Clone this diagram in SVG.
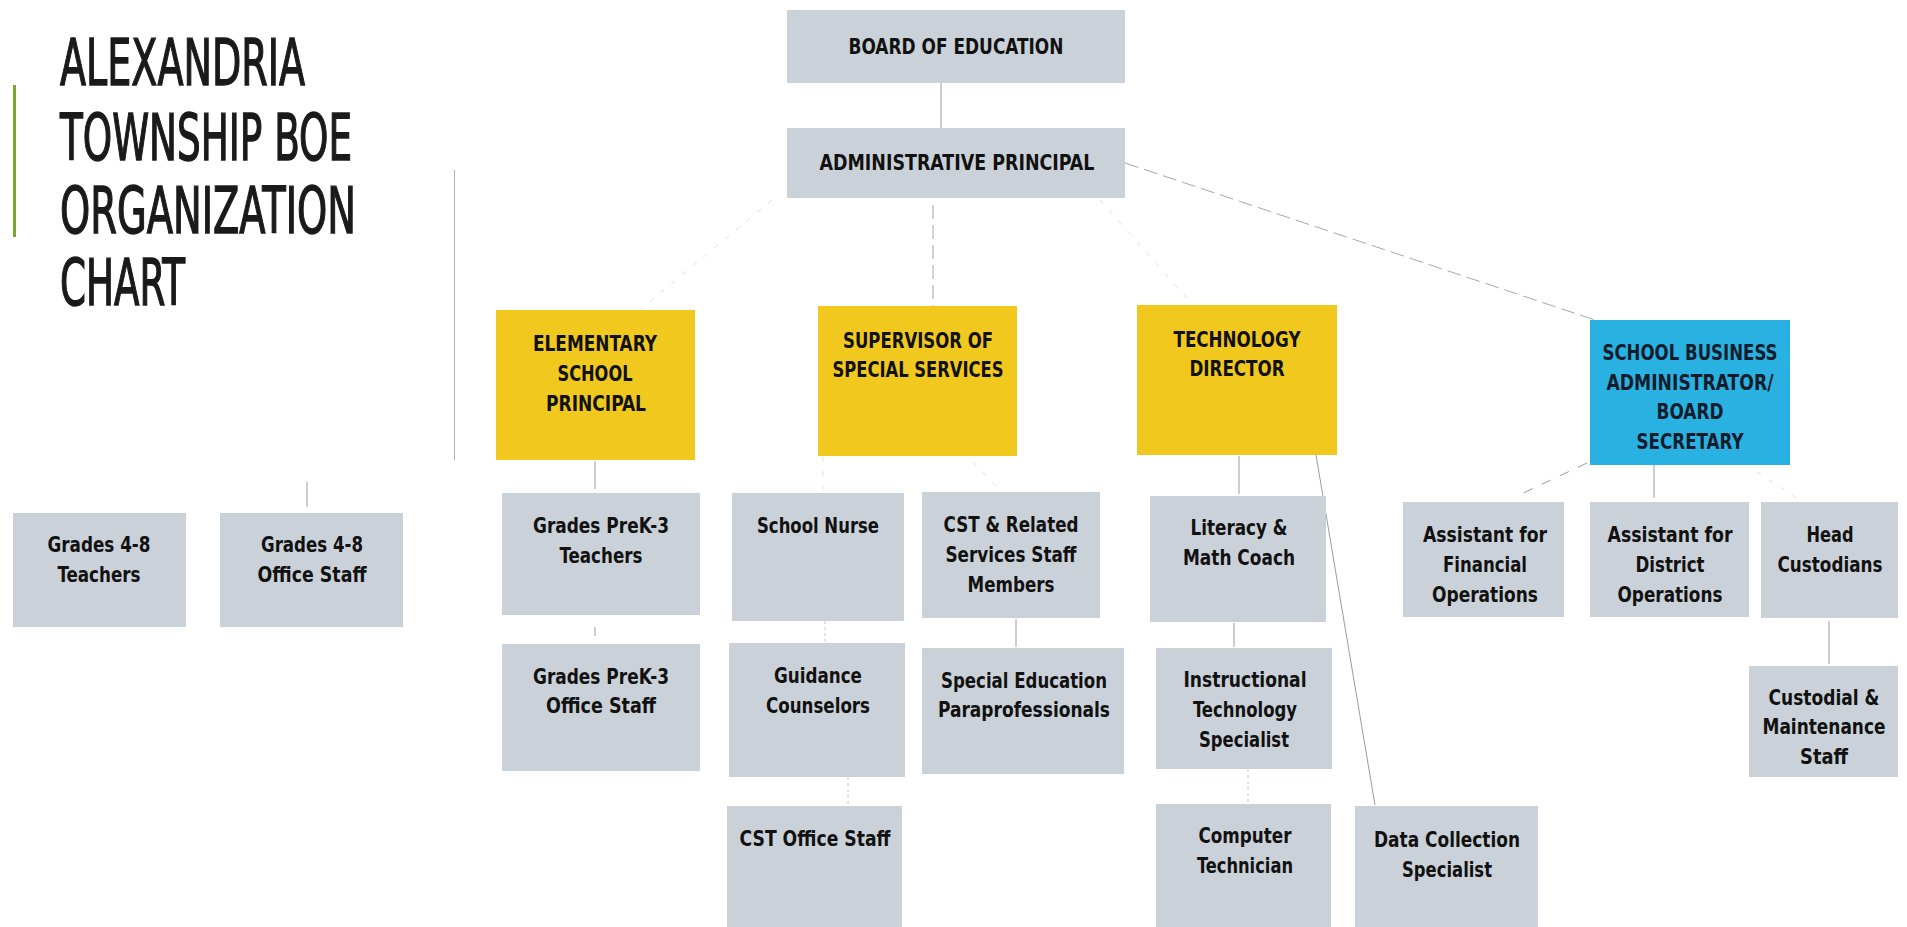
<svg xmlns="http://www.w3.org/2000/svg" width="1907" height="927" viewBox="0 0 1907 927">
  <style>
    .box { fill: #cbd1d8; }
    .yel { fill: #f0c81e; }
    .blue { fill: #29b1e1; }
    .lbl { font-family: "Liberation Sans Narrow", "DejaVu Sans Condensed", "Liberation Sans", sans-serif; font-stretch: condensed; font-weight: bold; font-size: 22px; fill: #111111; text-anchor: middle; }
    .cap { font-size: 21px; }
    .navy { fill: #141c2c; }
    .title { font-family: "Liberation Sans Narrow", "DejaVu Sans Condensed", "Liberation Sans", sans-serif; font-stretch: condensed; font-weight: normal; font-size: 64px; fill: #1a1a1a; stroke: #1a1a1a; stroke-width: 1.4; }
    .ln { stroke: #9c9c9c; stroke-width: 1; fill: none; }
    .faint { stroke: #e0e0e0; stroke-width: 1; fill: none; stroke-dasharray: 5 9; }
    .dot { stroke: #c8c8c8; stroke-width: 1; fill: none; stroke-dasharray: 3 3; }
    .dash { stroke: #a8a8a8; stroke-width: 1; fill: none; stroke-dasharray: 14 6; }
  </style>

  <!-- heading -->
  <g id="title">
    <rect x="13" y="85" width="3" height="152" fill="#7aa72a"/>
    <text class="title" x="60" y="85" textLength="245" lengthAdjust="spacingAndGlyphs">ALEXANDRIA</text>
    <text class="title" x="60" y="160" textLength="292" lengthAdjust="spacingAndGlyphs">TOWNSHIP BOE</text>
    <text class="title" x="60" y="233" textLength="296" lengthAdjust="spacingAndGlyphs">ORGANIZATION</text>
    <text class="title" x="60" y="305" textLength="125" lengthAdjust="spacingAndGlyphs">CHART</text>
    <line x1="454.5" y1="170" x2="454.5" y2="460" stroke="#b0b0b0" stroke-width="1"/>
  </g>

  <!-- connectors -->
  <g id="connectors">
    <path class="ln" d="M941 83 V128"/>
    <path class="dash" d="M933 205 V306"/>
    <rect x="926" y="306" width="10" height="6" fill="#b89f2a"/>
    <path class="faint" d="M772 200 L641 309" stroke="#ebebeb"/>
    <path class="faint" d="M1100 200 L1192 304" stroke-dasharray="2 16"/>
    <path class="dash" d="M1125 163 L1595 320" stroke="#bcbcbc"/>
    <path class="ln" d="M595 461 V489"/>
    <path class="ln" d="M595 627 V636"/>
    <path class="faint" d="M823 457 V492" stroke-dasharray="none" stroke="#e8e0d2"/>
    <path class="faint" d="M973 462 L997 487" stroke-dasharray="none"/>
    <path class="dot" d="M825 621 V650" stroke="#d8d8d8"/>
    <path class="dot" d="M848 777 V806" stroke="#d8d8d8"/>
    <path class="ln" d="M1016 619 V647"/>
    <path class="ln" d="M1239 456 V494"/>
    <path class="ln" d="M1316 455 L1375 805"/>
    <path class="ln" d="M1234 623 V647"/>
    <path class="dot" d="M1248 769 V804"/>
    <path class="ln" d="M1587 463 L1517 496" stroke-dasharray="10 10"/>
    <path class="ln" d="M1654 465 V498"/>
    <path class="faint" d="M1757 472 L1800 500" stroke-dasharray="none"/>
    <path class="ln" d="M1829 621 V664"/>
    <path class="ln" d="M307 482 V507" stroke="#888"/>
  </g>

  <!-- top level -->
  <g id="board">
    <rect class="box" x="787" y="10" width="338" height="73"/>
    <text class="lbl cap" x="956" y="54" textLength="215" lengthAdjust="spacingAndGlyphs">BOARD OF EDUCATION</text>
  </g>
  <g id="admin-principal">
    <rect class="box" x="787" y="128" width="338" height="70"/>
    <text class="lbl cap" x="957" y="170" textLength="275" lengthAdjust="spacingAndGlyphs">ADMINISTRATIVE PRINCIPAL</text>
  </g>

  <!-- directors -->
  <g id="elementary-principal">
    <rect class="yel" x="496" y="310" width="199" height="150"/>
    <text class="lbl" x="595" y="351" textLength="124" lengthAdjust="spacingAndGlyphs">ELEMENTARY</text>
    <text class="lbl" x="595" y="381" textLength="75" lengthAdjust="spacingAndGlyphs">SCHOOL</text>
    <text class="lbl" x="596" y="411" textLength="100" lengthAdjust="spacingAndGlyphs">PRINCIPAL</text>
  </g>
  <g id="special-services">
    <rect class="yel" x="818" y="306" width="199" height="150"/>
    <text class="lbl" x="918" y="348" textLength="150" lengthAdjust="spacingAndGlyphs">SUPERVISOR OF</text>
    <text class="lbl" x="918" y="377" textLength="171" lengthAdjust="spacingAndGlyphs">SPECIAL SERVICES</text>
  </g>
  <g id="technology-director">
    <rect class="yel" x="1137" y="305" width="200" height="150"/>
    <text class="lbl" x="1237" y="347" textLength="127" lengthAdjust="spacingAndGlyphs">TECHNOLOGY</text>
    <text class="lbl" x="1237" y="376" textLength="95" lengthAdjust="spacingAndGlyphs">DIRECTOR</text>
  </g>
  <g id="business-administrator">
    <rect class="blue" x="1590" y="320" width="200" height="145"/>
    <text class="lbl navy" x="1690" y="360" textLength="175" lengthAdjust="spacingAndGlyphs">SCHOOL BUSINESS</text>
    <text class="lbl navy" x="1690" y="390" textLength="167" lengthAdjust="spacingAndGlyphs">ADMINISTRATOR/</text>
    <text class="lbl navy" x="1690" y="419" textLength="67" lengthAdjust="spacingAndGlyphs">BOARD</text>
    <text class="lbl navy" x="1690" y="449" textLength="107" lengthAdjust="spacingAndGlyphs">SECRETARY</text>
  </g>

  <!-- staff -->
  <g id="grades48-teachers">
    <rect class="box" x="13" y="513" width="173" height="114"/>
    <text class="lbl" x="99" y="552" textLength="103" lengthAdjust="spacingAndGlyphs">Grades 4-8</text>
    <text class="lbl" x="99" y="582" textLength="83" lengthAdjust="spacingAndGlyphs">Teachers</text>
  </g>
  <g id="grades48-office">
    <rect class="box" x="220" y="513" width="183" height="114"/>
    <text class="lbl" x="312" y="552" textLength="102" lengthAdjust="spacingAndGlyphs">Grades 4-8</text>
    <text class="lbl" x="312" y="582" textLength="109" lengthAdjust="spacingAndGlyphs">Office Staff</text>
  </g>
  <g id="prek3-teachers">
    <rect class="box" x="502" y="493" width="198" height="122"/>
    <text class="lbl" x="601" y="533" textLength="136" lengthAdjust="spacingAndGlyphs">Grades PreK-3</text>
    <text class="lbl" x="601" y="563" textLength="83" lengthAdjust="spacingAndGlyphs">Teachers</text>
  </g>
  <g id="prek3-office">
    <rect class="box" x="502" y="644" width="198" height="127"/>
    <text class="lbl" x="601" y="684" textLength="136" lengthAdjust="spacingAndGlyphs">Grades PreK-3</text>
    <text class="lbl" x="601" y="713" textLength="110" lengthAdjust="spacingAndGlyphs">Office Staff</text>
  </g>
  <g id="school-nurse">
    <rect class="box" x="732" y="493" width="172" height="128"/>
    <text class="lbl" x="818" y="533" textLength="122" lengthAdjust="spacingAndGlyphs">School Nurse</text>
  </g>
  <g id="cst-related">
    <rect class="box" x="922" y="492" width="178" height="126"/>
    <text class="lbl" x="1011" y="532" textLength="135" lengthAdjust="spacingAndGlyphs">CST &amp; Related</text>
    <text class="lbl" x="1011" y="562" textLength="131" lengthAdjust="spacingAndGlyphs">Services Staff</text>
    <text class="lbl" x="1011" y="592" textLength="87" lengthAdjust="spacingAndGlyphs">Members</text>
  </g>
  <g id="guidance">
    <rect class="box" x="729" y="643" width="176" height="134"/>
    <text class="lbl" x="818" y="683" textLength="88" lengthAdjust="spacingAndGlyphs">Guidance</text>
    <text class="lbl" x="818" y="713" textLength="104" lengthAdjust="spacingAndGlyphs">Counselors</text>
  </g>
  <g id="special-ed-para">
    <rect class="box" x="922" y="648" width="202" height="126"/>
    <text class="lbl" x="1024" y="688" textLength="166" lengthAdjust="spacingAndGlyphs">Special Education</text>
    <text class="lbl" x="1024" y="717" textLength="172" lengthAdjust="spacingAndGlyphs">Paraprofessionals</text>
  </g>
  <g id="cst-office">
    <rect class="box" x="727" y="806" width="175" height="121"/>
    <text class="lbl" x="815" y="846" textLength="151" lengthAdjust="spacingAndGlyphs">CST Office Staff</text>
  </g>
  <g id="literacy-math">
    <rect class="box" x="1150" y="496" width="176" height="126"/>
    <text class="lbl" x="1239" y="535" textLength="97" lengthAdjust="spacingAndGlyphs">Literacy &amp;</text>
    <text class="lbl" x="1239" y="565" textLength="112" lengthAdjust="spacingAndGlyphs">Math Coach</text>
  </g>
  <g id="instructional-tech">
    <rect class="box" x="1156" y="648" width="176" height="121"/>
    <text class="lbl" x="1245" y="687" textLength="123" lengthAdjust="spacingAndGlyphs">Instructional</text>
    <text class="lbl" x="1245" y="717" textLength="104" lengthAdjust="spacingAndGlyphs">Technology</text>
    <text class="lbl" x="1244" y="747" textLength="90" lengthAdjust="spacingAndGlyphs">Specialist</text>
  </g>
  <g id="computer-tech">
    <rect class="box" x="1156" y="804" width="175" height="123"/>
    <text class="lbl" x="1245" y="843" textLength="93" lengthAdjust="spacingAndGlyphs">Computer</text>
    <text class="lbl" x="1245" y="873" textLength="96" lengthAdjust="spacingAndGlyphs">Technician</text>
  </g>
  <g id="data-collection">
    <rect class="box" x="1355" y="806" width="183" height="121"/>
    <text class="lbl" x="1447" y="847" textLength="146" lengthAdjust="spacingAndGlyphs">Data Collection</text>
    <text class="lbl" x="1447" y="877" textLength="90" lengthAdjust="spacingAndGlyphs">Specialist</text>
  </g>
  <g id="asst-financial">
    <rect class="box" x="1403" y="502" width="161" height="115"/>
    <text class="lbl" x="1485" y="542" textLength="124" lengthAdjust="spacingAndGlyphs">Assistant for</text>
    <text class="lbl" x="1485" y="572" textLength="84" lengthAdjust="spacingAndGlyphs">Financial</text>
    <text class="lbl" x="1485" y="602" textLength="106" lengthAdjust="spacingAndGlyphs">Operations</text>
  </g>
  <g id="asst-district">
    <rect class="box" x="1590" y="502" width="159" height="115"/>
    <text class="lbl" x="1670" y="542" textLength="125" lengthAdjust="spacingAndGlyphs">Assistant for</text>
    <text class="lbl" x="1670" y="572" textLength="69" lengthAdjust="spacingAndGlyphs">District</text>
    <text class="lbl" x="1670" y="602" textLength="105" lengthAdjust="spacingAndGlyphs">Operations</text>
  </g>
  <g id="head-custodians">
    <rect class="box" x="1761" y="502" width="137" height="116"/>
    <text class="lbl" x="1830" y="542" textLength="47" lengthAdjust="spacingAndGlyphs">Head</text>
    <text class="lbl" x="1830" y="572" textLength="105" lengthAdjust="spacingAndGlyphs">Custodians</text>
  </g>
  <g id="custodial-maintenance">
    <rect class="box" x="1749" y="666" width="149" height="111"/>
    <text class="lbl" x="1824" y="705" textLength="111" lengthAdjust="spacingAndGlyphs">Custodial &amp;</text>
    <text class="lbl" x="1824" y="734" textLength="123" lengthAdjust="spacingAndGlyphs">Maintenance</text>
    <text class="lbl" x="1824" y="764" textLength="48" lengthAdjust="spacingAndGlyphs">Staff</text>
  </g>
</svg>
